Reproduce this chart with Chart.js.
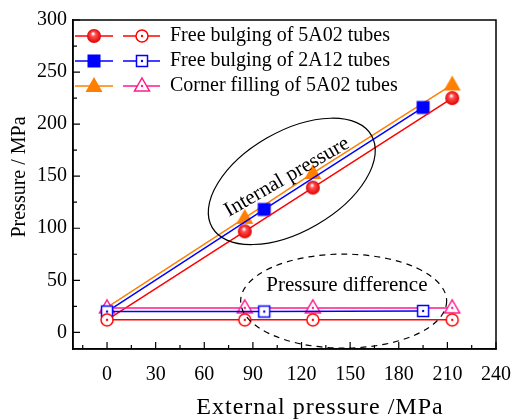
<!DOCTYPE html>
<html>
<head>
<meta charset="utf-8">
<script src="https://cdn.jsdelivr.net/npm/chart.js@4.4.1/dist/chart.umd.min.js"></script>
<style>
  html, body { margin: 0; padding: 0; background: #fff; }
</style>
</head>
<body>
<canvas id="chart" width="525" height="420"></canvas>
<script>
// external pressure (x) for each test group
const x5A02 = [0, 85, 127, 213];
const x2A12 = [0, 97, 195];

// internal pressure
const internal5A02 = [12, 97, 139, 225];
const internal2A12 = [20, 118, 216];
const internalCorner = [24, 110, 153, 238];

// pressure difference
const diff5A02 = [12, 12, 12, 12];
const diff2A12 = [20, 20, 20.5];
const diffCorner = [23.5, 23.5, 23.5, 23.5];

const xTicks = [0, 30, 60, 90, 120, 150, 180, 210, 240];
const yTicks = [0, 50, 100, 150, 200, 250, 300];

const legendLabels = [
  'Free bulging of 5A02 tubes',
  'Free bulging of 2A12 tubes',
  'Corner filling of 5A02 tubes'
];

const RED = '#ff0000';
const BLUE = '#0000ff';
const ORANGE = '#ff8000';
const PINK = '#ff1a8c';
const FONT = '"Liberation Serif", "Times New Roman", serif';

function pts(xs, ys) {
  return xs.map((x, i) => ({ x: x, y: ys[i] }));
}

function marker(kind, color) {
  const c = document.createElement('canvas');
  c.width = 20; c.height = 20;
  const g = c.getContext('2d');
  const m = 10;
  g.lineWidth = 1.5;
  if (kind === 'ball') {
    const grd = g.createRadialGradient(m - 1, m - 2.5, 0.5, m, m, 7);
    grd.addColorStop(0, '#ffffff');
    grd.addColorStop(0.3, '#ff5050');
    grd.addColorStop(1, '#e00000');
    g.fillStyle = grd;
    g.beginPath(); g.arc(m, m, 7, 0, Math.PI * 2); g.fill();
  } else if (kind === 'square') {
    g.fillStyle = color;
    g.fillRect(m - 6.5, m - 6.5, 13, 13);
  } else if (kind === 'triangle') {
    g.fillStyle = color;
    g.beginPath(); g.moveTo(m, m - 9); g.lineTo(m + 8.5, m + 6); g.lineTo(m - 8.5, m + 6); g.closePath(); g.fill();
  } else if (kind === 'ocircle') {
    g.fillStyle = '#fff'; g.strokeStyle = color;
    g.beginPath(); g.arc(m, m, 6, 0, Math.PI * 2); g.fill(); g.stroke();
  } else if (kind === 'osquare') {
    g.fillStyle = '#fff'; g.strokeStyle = color;
    g.fillRect(m - 5.5, m - 5.5, 11, 11); g.strokeRect(m - 5.5, m - 5.5, 11, 11);
  } else if (kind === 'otriangle') {
    g.fillStyle = '#fff'; g.strokeStyle = color;
    g.beginPath(); g.moveTo(m, m - 8); g.lineTo(m + 7.5, m + 5); g.lineTo(m - 7.5, m + 5); g.closePath(); g.fill(); g.stroke();
  }
  if (kind.charAt(0) === 'o') {
    g.fillStyle = color;
    g.beginPath(); g.arc(m, m, 1.2, 0, Math.PI * 2); g.fill();
  }
  return c;
}

const mk = {
  ball: marker('ball', RED),
  square: marker('square', BLUE),
  triangle: marker('triangle', ORANGE),
  ocircle: marker('ocircle', RED),
  osquare: marker('osquare', BLUE),
  otriangle: marker('otriangle', PINK)
};

function series(data, color, style, order, hideFirst) {
  return {
    data: data,
    borderColor: color,
    backgroundColor: color,
    borderWidth: 1.5,
    pointStyle: style,
    pointRadius: data.map((d, i) => (hideFirst && i === 0 ? 0 : 7)),
    tension: 0,
    order: order
  };
}

const decorations = {
  id: 'decorations',
  afterDatasetsDraw(chart) {
    const ctx = chart.ctx;
    const a = chart.chartArea;
    const xs = chart.scales.x;
    const ys = chart.scales.y;
    ctx.save();

    // frame
    ctx.strokeStyle = '#000';
    ctx.lineWidth = 1.5;
    ctx.strokeRect(a.left, a.top, a.right - a.left, a.bottom - a.top);

    // inward ticks
    ctx.lineWidth = 1.2;
    ctx.beginPath();
    const xStep = xTicks[1] - xTicks[0];
    for (let v = xTicks[0] - xStep / 2; v <= xs.max; v += xStep / 2) {
      if (v < xs.min) continue;
      const major = xTicks.includes(v);
      const px = xs.getPixelForValue(v);
      ctx.moveTo(px, a.bottom); ctx.lineTo(px, a.bottom - (major ? 7 : 4));
    }
    const yStep = yTicks[1] - yTicks[0];
    for (let v = yTicks[0]; v <= ys.max; v += yStep / 2) {
      const major = yTicks.includes(v);
      const py = ys.getPixelForValue(v);
      ctx.moveTo(a.left, py); ctx.lineTo(a.left + (major ? 7 : 4), py);
    }
    ctx.stroke();

    // ellipses
    ctx.strokeStyle = '#000';
    ctx.lineWidth = 1.2;
    ctx.beginPath();
    ctx.ellipse(xs.getPixelForValue(114), ys.getPixelForValue(145), 92, 50, -30 * Math.PI / 180, 0, Math.PI * 2);
    ctx.stroke();
    ctx.setLineDash([6, 5]);
    ctx.beginPath();
    ctx.ellipse(xs.getPixelForValue(146), ys.getPixelForValue(30), 103, 47, 0, 0, Math.PI * 2);
    ctx.stroke();
    ctx.setLineDash([]);

    ctx.fillStyle = '#000';
    ctx.font = '21px ' + FONT;
    ctx.textAlign = 'center';
    ctx.textBaseline = 'middle';
    ctx.save();
    ctx.translate(xs.getPixelForValue(111), ys.getPixelForValue(149));
    ctx.rotate(-30 * Math.PI / 180);
    ctx.fillText('Internal pressure', 0, 0);
    ctx.restore();
    ctx.fillText('Pressure difference', xs.getPixelForValue(148), ys.getPixelForValue(45));

    // legend
    const rows = [
      [RED, mk.ball, RED, mk.ocircle],
      [BLUE, mk.square, BLUE, mk.osquare],
      [ORANGE, mk.triangle, PINK, mk.otriangle]
    ];
    ctx.font = '20px ' + FONT;
    ctx.textAlign = 'left';
    rows.forEach((r, i) => {
      const y = a.top + 16 + i * 25;
      const x0 = a.left + 2;
      ctx.lineWidth = 1.5;
      ctx.strokeStyle = r[0];
      ctx.beginPath(); ctx.moveTo(x0, y); ctx.lineTo(x0 + 38, y); ctx.stroke();
      ctx.drawImage(r[1], x0 + 19 - 10, y - 10);
      ctx.strokeStyle = r[2];
      ctx.beginPath(); ctx.moveTo(x0 + 48, y); ctx.lineTo(x0 + 85, y); ctx.stroke();
      ctx.drawImage(r[3], x0 + 67 - 10, y - 10);
      ctx.fillStyle = '#000';
      ctx.fillText(legendLabels[i], x0 + 95, y);
    });

    // axis titles
    ctx.font = '24px ' + FONT;
    ctx.letterSpacing = '1px';
    ctx.textAlign = 'center';
    ctx.fillText('External pressure /MPa', 320, 408);
    ctx.letterSpacing = '0px';
    ctx.save();
    ctx.translate(20, 177);
    ctx.rotate(-Math.PI / 2);
    ctx.font = '20px ' + FONT;
    ctx.fillText('Pressure / MPa', 0, 0);
    ctx.restore();

    ctx.restore();
  }
};

new Chart(document.getElementById('chart'), {
  type: 'line',
  data: {
    datasets: [
      series(pts(x5A02, diff5A02), RED, mk.ocircle, 0, false),
      series(pts(x2A12, diff2A12), BLUE, mk.osquare, 0, false),
      series(pts(x5A02, diffCorner), PINK, mk.otriangle, 0, false),
      series(pts(x5A02, internal5A02), RED, mk.ball, 1, true),
      series(pts(x2A12, internal2A12), BLUE, mk.square, 1, true),
      series(pts(x5A02, internalCorner), ORANGE, mk.triangle, 1, true)
    ]
  },
  options: {
    responsive: false,
    animation: false,
    layout: { padding: { left: 0, right: 16, top: 20, bottom: 0 } },
    plugins: {
      legend: { display: false },
      tooltip: { enabled: false },
      title: { display: false }
    },
    scales: {
      x: {
        type: 'linear',
        min: -21,
        max: 240,
        afterBuildTicks: (s) => { s.ticks = xTicks.map(v => ({ value: v })); },
        afterFit: (s) => { s.height = 71; },
        grid: { display: false, drawTicks: false },
        border: { display: true, color: '#000', width: 1.5 },
        ticks: { color: '#000', padding: 14, maxRotation: 0, font: { family: FONT, size: 20 } }
      },
      y: {
        min: -16,
        max: 300,
        afterBuildTicks: (s) => { s.ticks = yTicks.map(v => ({ value: v })); },
        afterFit: (s) => { s.width = 73; },
        grid: { display: false, drawTicks: false },
        border: { display: true, color: '#000', width: 1.5 },
        ticks: { color: '#000', padding: 6, font: { family: FONT, size: 20 } }
      }
    }
  },
  plugins: [decorations]
});
</script>
</body>
</html>
